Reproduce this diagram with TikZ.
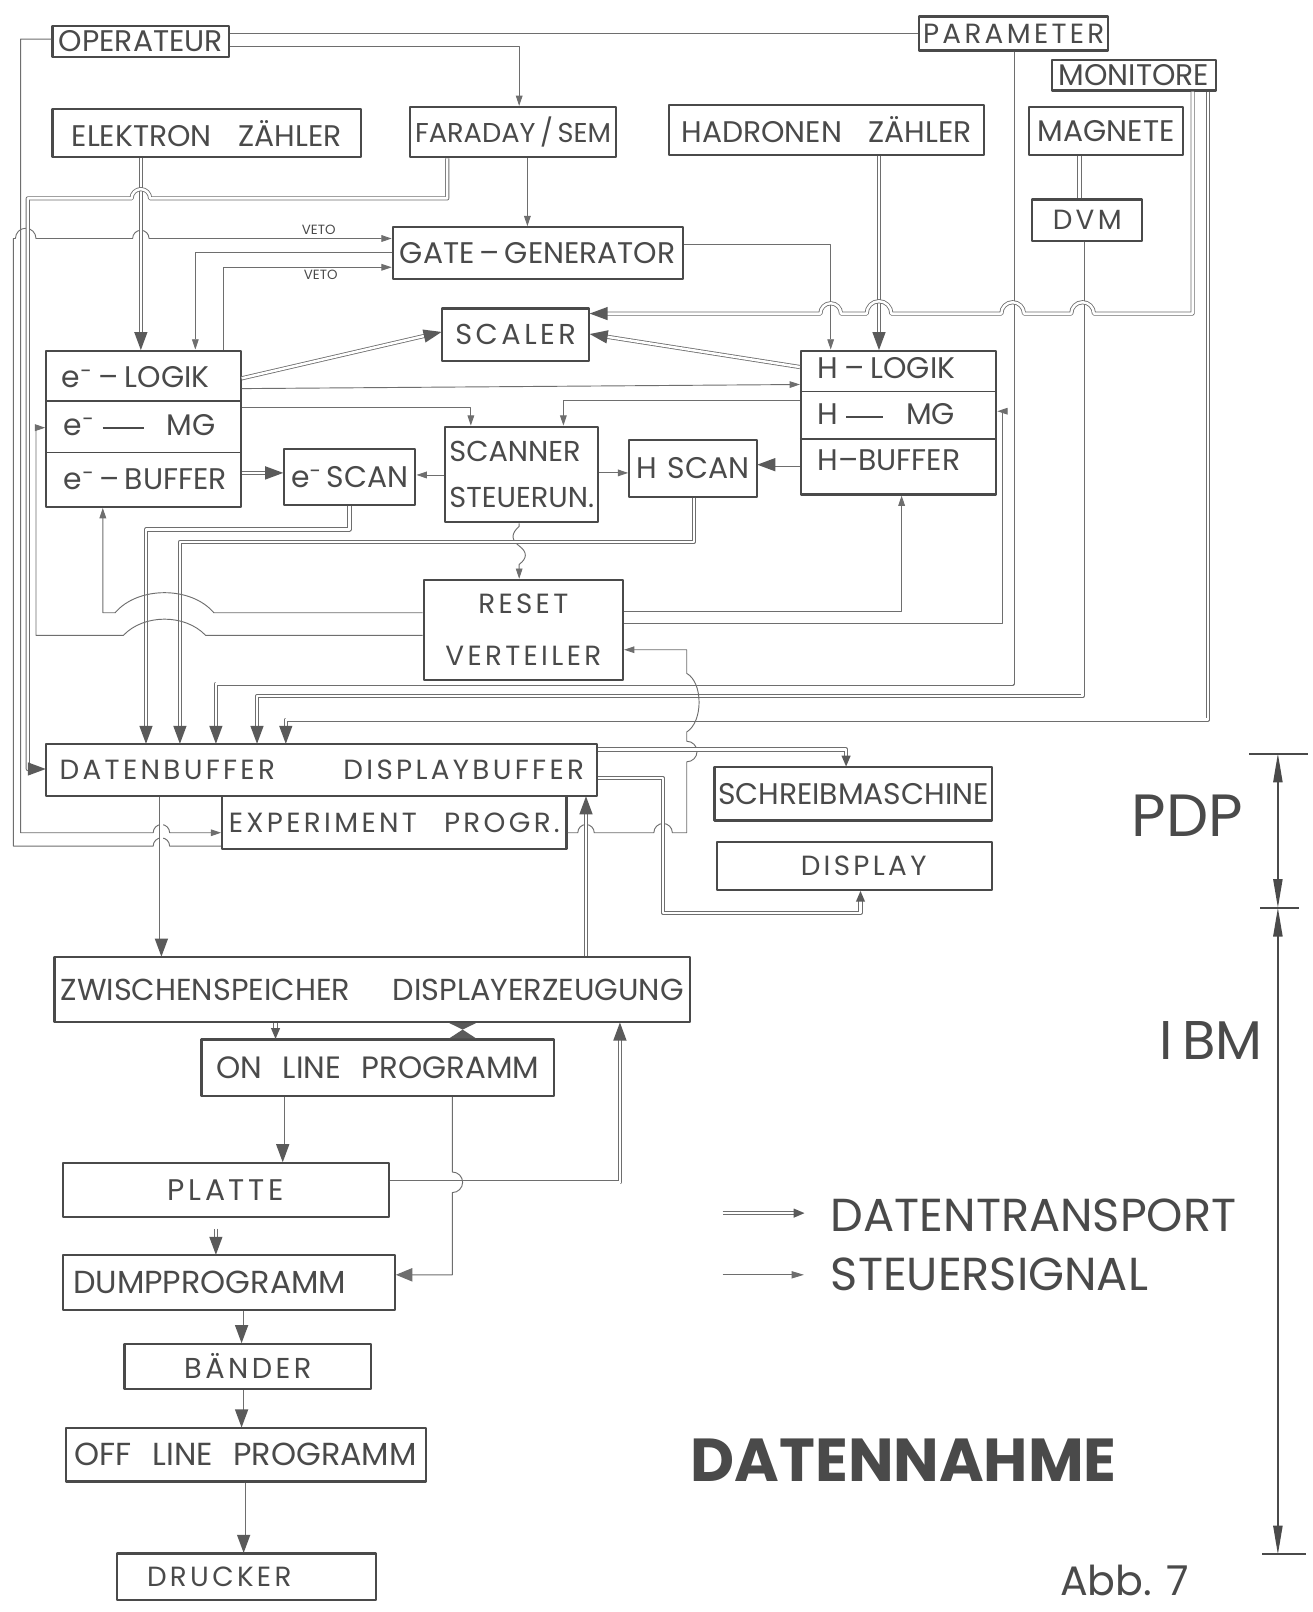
\documentclass[tikz,border=0pt]{standalone}
\usepackage{fontspec}
\setmainfont{Poppins}
\newfontfamily\widefont[LetterSpace=12]{Poppins}
\usetikzlibrary{arrows.meta,decorations.markings}
\definecolor{ink}{HTML}{4A4A4A}
\definecolor{lin}{HTML}{6E6E6E}
\definecolor{tipc}{HTML}{5A5A5A}
\newcommand{\fs}[1]{\fontsize{#1}{#1}\selectfont}
\begin{document}
\begin{tikzpicture}[x=1pt,y=-1pt,line join=round,
  bx/.style={draw=ink, line width=2.1pt, inner sep=0pt, anchor=north west, text=ink, font=\fs{29}},
  lbl/.style={text=ink, inner sep=0pt, font=\fs{29}},
  sg/.style={draw=lin, line width=0.9pt, -{Triangle[length=10pt,width=6.5pt]}},
  sgb/.style={draw=lin, line width=0.9pt, -{Triangle[length=16pt,width=13pt]}},
  sgn/.style={draw=lin, line width=0.9pt},
  dtn/.style={draw=lin, double=white, double distance=2.4pt, line width=0.8pt},
  dt/.style={dtn, shorten >=14pt,
     postaction={decorate, decoration={markings, mark=at position 1 with {\fill[tipc] (0.5pt,0pt) -- (-17pt,6.5pt) -- (-17pt,-6.5pt) -- cycle;}}}},
  dts/.style={dtn, shorten >=8pt,
     postaction={decorate, decoration={markings, mark=at position 1 with {\fill[tipc] (0.5pt,0pt) -- (-10pt,4.5pt) -- (-10pt,-4.5pt) -- cycle;}}}},
  big/.style={text=ink, inner sep=0pt},
]
\fill[white] (0,0) rectangle (1277,1568);
\useasboundingbox (0,0) rectangle (1277,1568);

% ---------------- boxes ----------------
\node[bx, minimum width=172, minimum height=30] (oper) at (50,24) {OPERATEUR};
\node[bx, minimum width=184, minimum height=33, font=\widefont\fs{27}] (param) at (893,15) {PARAMETER};
\node[bx, minimum width=160, minimum height=30] (moni) at (1022,57) {MONITORE};
\node[bx, minimum width=300, minimum height=47] (elek) at (50,105) {ELEKTRON\hspace{26pt}ZÄHLER};
\node[bx, minimum width=200, minimum height=49, font=\fs{26.5}] (fara) at (398,103) {FARADAY\,/\,SEM};
\node[bx, minimum width=306, minimum height=49] (hadr) at (650,101) {HADRONEN\hspace{26pt}ZÄHLER};
\node[bx, minimum width=150, minimum height=47] (magn) at (1000,103) {MAGNETE};
\node[bx, minimum width=107, minimum height=40, font=\widefont\fs{27}] (dvm) at (1003,193) {DVM};
\node[bx, minimum width=282, minimum height=50] (gate) at (381,220) {GATE\,--\,GENERATOR};
\node[bx, minimum width=143, minimum height=51, font=\widefont\fs{28}] (scal) at (429,299) {SCALER};
\node[bx, minimum width=189, minimum height=152] (elog) at (44,340) {};
\node[bx, minimum width=190, minimum height=140] (hlog) at (778,340) {};
\node[bx, minimum width=128, minimum height=54] (escan) at (275,436) {e\textsuperscript{-}\,SCAN};
\node[bx, minimum width=149, minimum height=93, align=left, font=\fs{28}] (scan) at (432,414) {SCANNER\\[16pt]STEUERUN.};
\node[bx, minimum width=124, minimum height=55] (hscan) at (611,427) {H\hspace{10pt}SCAN};
\node[bx, minimum width=194, minimum height=97, align=center, font=\widefont\fs{27}] (reset) at (411,563) {RESET\\[24pt]VERTEILER};
\node[bx, minimum width=536, minimum height=50, font=\widefont\fs{27}] (daten) at (44,723) {\makebox[510pt]{DATENBUFFER\hfill DISPLAYBUFFER}};
\node[bx, minimum width=335, minimum height=52, font=\widefont\fs{27}] (exp) at (215,773) {\makebox[322pt]{EXPERIMENT\hfill PROGR.}};
\node[bx, minimum width=270, minimum height=52] (schr) at (694,745) {SCHREIBMASCHINE};
\node[bx, minimum width=268, minimum height=47, font=\widefont\fs{27}] (disp) at (696,818) {\hspace{18pt}DISPLAY};
\node[bx, minimum width=618, minimum height=63, font=\fs{29.5}] (zwis) at (52,930) {\makebox[606pt]{ZWISCHENSPEICHER\hfill DISPLAYERZEUGUNG}};
\node[bx, minimum width=343, minimum height=55, font=\fs{30}] (online) at (195,1010) {ON\hspace{20pt}LINE\hspace{20pt}PROGRAMM};
\node[bx, minimum width=317, minimum height=53, font=\widefont\fs{29}] (platte) at (60,1130) {PLATTE};
\node[bx, minimum width=323, minimum height=53, font=\fs{31}] (dump) at (60,1220) {\makebox[303pt][l]{DUMPPROGRAMM}};
\node[bx, minimum width=240, minimum height=44, font=\widefont\fs{28}] (baender) at (120,1306) {BÄNDER};
\node[bx, minimum width=350, minimum height=52, font=\fs{31}] (offline) at (63,1388) {OFF\hspace{20pt}LINE\hspace{20pt}PROGRAMM};
\node[bx, minimum width=252, minimum height=45, font=\widefont\fs{27}] (drucker) at (113,1510) {\makebox[252pt][l]{\hspace{29pt}DRUCKER}};

% compartments
\draw[ink, line width=1.4pt] (elog.west |- 0,390) -- (elog.east |- 0,390);
\draw[ink, line width=1.4pt] (elog.west |- 0,440) -- (elog.east |- 0,440);
\draw[ink, line width=1.4pt] (hlog.west |- 0,381) -- (hlog.east |- 0,381);
\draw[ink, line width=1.4pt] (hlog.west |- 0,427) -- (hlog.east |- 0,427);
\node[lbl, anchor=west] (eA) at (60,367) {e\textsuperscript{-}\hspace{6pt}--\hspace{6pt}LOGIK};
\node[lbl, anchor=west] (eB) at (62,414) {e\textsuperscript{-}\hspace{8pt}\rule[7pt]{40pt}{1.8pt}\hspace{22pt}MG};
\node[lbl, anchor=west] (eC) at (62,466) {e\textsuperscript{-}\hspace{5pt}--\hspace{5pt}BUFFER};
\node[lbl, anchor=west] (hA) at (795,358) {H\hspace{6pt}--\hspace{6pt}LOGIK};
\node[lbl, anchor=west] (hB) at (795,403) {H\hspace{8pt}\rule[7pt]{36pt}{1.8pt}\hspace{22pt}MG};
\node[lbl, anchor=west] (hC) at (795,448) {H--BUFFER};

% ---------------- connectors ----------------
% Operateur
\draw[sg] (oper.west |- 0,38) -- (20,38) -- (20,810) -- (149,810) arc[start angle=180,end angle=360,radius=8] -- (exp.west |- 0,810);
\draw[sgn] (oper.east |- 0,33) -- (param.west |- 0,33);
\draw[sg] (oper.east |- 0,45) -- (505,45) -- (fara.north -| 505,0);
% Experiment progr -> gate (veto)
\draw[sg] (exp.west |- 0,823) -- (165,823) arc[start angle=0,end angle=-180,radius=8] -- (13,823) -- (13,232) -- (15,232)
   arc[start angle=180,end angle=360,radius=10] -- (129,232) arc[start angle=180,end angle=360,radius=8] -- (gate.west |- 0,232);
\node[big, font=\fs{13}] (veto1) at (310,224) {VETO};
\node[big, font=\fs{13}] (veto2) at (312,267) {VETO};
% Elektron zaehler
\draw[dt] (elek.south -| 137,0) -- (elog.north -| 137,0);
% Faraday
\draw[dt] (fara.south -| 435,0) -- (435,193) -- (146,193) arc[start angle=0,end angle=-180,radius=9] -- (27,193) -- (27,748) -- (daten.west |- 0,748);
\draw[sg] (fara.south -| 513,0) -- (gate.north -| 513,0);
% Gate
\draw[sg] (gate.west |- 0,246) -- (190,246) -- (elog.north -| 190,0);
\draw[sg] (elog.north -| 217,0) -- (217,260) -- (gate.west |- 0,260);
\draw[sg] (gate.east |- 0,238) -- (808,238) -- (hlog.north -| 808,0);
% Hadronen, Magnete, DVM, Parameter, Monitore
\draw[dt] (hadr.south -| 855,0) -- (hlog.north -| 855,0);
\draw[dtn] (magn.south -| 1050,0) -- (dvm.north -| 1050,0);
\draw[dt] (dvm.south -| 1053,0) -- (1053,677) -- (250,677) -- (daten.north -| 250,0);
\draw[dt] (param.south -| 985,0) -- (985,665) -- (210,665) -- (daten.north -| 210,0);
\draw[dt] (moni.south -| 1160,0) -- (1160,305) -- (1064,305) arc[start angle=0,end angle=-180,radius=11]
   -- (996,305) arc[start angle=0,end angle=-180,radius=11] -- (867,305) arc[start angle=0,end angle=-180,radius=12]
   -- (818,305) arc[start angle=0,end angle=-180,radius=10] -- (scal.east |- 0,305);
\draw[dt] (moni.south -| 1175,0) -- (1175,700) -- (278,700) -- (daten.north -| 278,0);
% Logik <-> scaler
\draw[dt] (elog.east |- 0,368) -- (scal.west |- 0,323);
\draw[dt] (hlog.west |- 0,357) -- (scal.east |- 0,325);
\draw[sg] (elog.east |- 0,378) -- (hlog.west |- 0,374);
\draw[sg] (elog.east |- 0,396) -- (458,396) -- (scan.north -| 458,0);
\draw[sg] (hlog.west |- 0,390) -- (548,390) -- (scan.north -| 548,0);
% buffers and scans
\draw[dt] (elog.east |- 0,460) -- (escan.west |- 0,460);
\draw[sg] (scan.west |- 0,462) -- (escan.east |- 0,462);
\draw[sg] (scan.east |- 0,460) -- (hscan.west |- 0,460);
\draw[dt] (hlog.west |- 0,452) -- (hscan.east |- 0,452);
\draw[sg] (scan.south -| 505,0) -- (505,512) .. controls (497,519) and (497,525) .. (505,531) .. controls (513,537) and (513,543) .. (505,549) -- (reset.north -| 505,0);
\draw[dt] (escan.south -| 340,0) -- (340,515) -- (142,515) -- (daten.north -| 142,0);
\draw[dt] (hscan.south -| 675,0) -- (675,527) -- (175,527) -- (daten.north -| 175,0);
% Reset Verteiler
\draw[sg] (reset.west |- 0,596) -- (208,596) .. controls (186,570) and (134,570) .. (112,596) -- (100,596) -- (elog.south -| 100,0);
\draw[sg] (reset.west |- 0,618) -- (200,618) .. controls (180,597) and (140,597) .. (120,618) -- (35,618) -- (35,416) -- (elog.west |- 0,416);
\draw[sg] (reset.east |- 0,595) -- (877,595) -- (hlog.south -| 877,0);
\draw[sg] (reset.east |- 0,606) -- (975,606) -- (975,400) -- (hlog.east |- 0,400);
\draw[sg] (exp.east |- 0,810) -- (562,810) arc[start angle=180,end angle=360,radius=8] -- (636,810) arc[start angle=180,end angle=360,radius=9]
   -- (668,810) -- (668,741) arc[start angle=90,end angle=-90,radius=10] -- (668,712) .. controls (684,702) and (684,664) .. (668,655) -- (668,632) -- (reset.east |- 0,632);
% Datenbuffer outputs
\draw[dts] (daten.east |- 0,729) -- (823,729) -- (schr.north -| 823,0);
\draw[dts] (daten.east |- 0,757) -- (645,757) -- (645,888) -- (837,888) -- (disp.south -| 837,0);
\draw[dt] (daten.south -| 157,0) -- (zwis.north -| 157,0);
\draw[dt] (zwis.north -| 570,0) -- (daten.south -| 570,0);
% IBM part
\draw[dts] (zwis.south -| 268,0) -- (online.north -| 268,0);
\fill[tipc] (zwis.south -| 437,0) -- (zwis.south -| 463,0) -- (450,1001.5) -- cycle;
\fill[tipc] (online.north -| 437,0) -- (online.north -| 463,0) -- (450,1001.5) -- cycle;
\draw[dt] (platte.east |- 0,1150) -- (603,1150) -- (zwis.south -| 603,0);
\draw[dt] (online.south -| 275,0) -- (platte.north -| 275,0);
\draw[sgb] (online.south -| 440,0) -- (440,1140) arc[start angle=-90,end angle=90,radius=10] -- (440,1240) -- (dump.east |- 0,1240);
\draw[dt, shorten <=10pt] (platte.south -| 210,0) -- (dump.north -| 210,0);
\draw[dt] (dump.south -| 235,0) -- (baender.north -| 235,0);
\draw[dt] (baender.south -| 235,0) -- (offline.north -| 235,0);
\draw[dt] (offline.south -| 237,0) -- (drucker.north -| 237,0);

% ---------------- legend ----------------
\node[big, anchor=west, font=\fs{45}] (lgdt) at (808,1182) {DATENTRANSPORT};
\node[big, anchor=west, font=\fs{45}] (lgsg) at (808,1240) {STEUERSIGNAL};
\coordinate (lgA) at (703,1180);
\coordinate (lgA2) at (782,1180);
\coordinate (lgB) at (703,1240);
\coordinate (lgB2) at (782,1240);
\draw[dts] (lgA) -- (lgA2);
\draw[sg, -{Triangle[length=12pt,width=7pt]}] (lgB) -- (lgB2);

% ---------------- scale ----------------
\coordinate (sT) at (1243,733);
\coordinate (sM) at (1243,883);
\coordinate (sB) at (1243,1512);
\draw[ink, line width=2pt] (1215,733) -- (1272,733);
\draw[ink, line width=2pt] (1226,883) -- (1264,883);
\draw[ink, line width=2pt] (1228,1512) -- (1270,1512);
\draw[ink, line width=1.4pt, {Triangle[length=28pt,width=9pt]}-{Triangle[length=28pt,width=9pt]}] (sT) -- (sM);
\draw[ink, line width=1.4pt, {Triangle[length=28pt,width=9pt]}-{Triangle[length=28pt,width=9pt]}] (sM) -- (sB);
\node[big, font=\fs{58}] (pdp) at (1155,793) {PDP};
\node[big, font=\fs{53}] (ibm) at (1178,1012) {I\,BM};
\node[big, font=\bfseries\fs{59}] (dn) at (879,1420) {DATENNAHME};
\node[big, font=\fs{40}] (abb) at (1094,1537) {Abb. 7};
\end{tikzpicture}
\end{document}
